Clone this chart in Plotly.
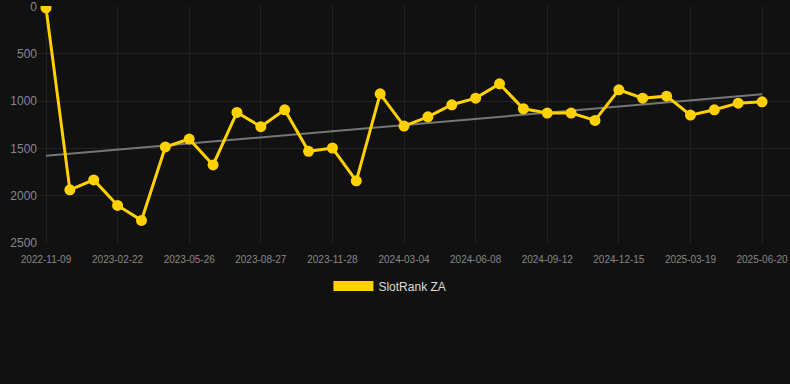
import plotly.graph_objects as go
import numpy as np

dates = ["2022-11-09","2022-12-14","2023-01-18","2023-02-22","2023-03-25","2023-04-25",
         "2023-05-26","2023-06-26","2023-07-27","2023-08-27","2023-09-27","2023-10-28",
         "2023-11-28","2023-12-31","2024-02-01","2024-03-04","2024-04-04","2024-05-07",
         "2024-06-08","2024-07-10","2024-08-11","2024-09-12","2024-10-13","2024-11-14",
         "2024-12-15","2025-01-15","2025-02-16","2025-03-19","2025-04-19","2025-05-20",
         "2025-06-20"]
ranks = [15, 1938, 1833, 2103, 2261, 1485, 1401, 1675, 1120, 1271, 1092, 1531,
         1496, 1843, 923, 1264, 1166, 1039, 969, 818, 1081, 1127, 1127, 1204,
         881, 969, 948, 1148, 1092, 1022, 1008]
tick_labels = dates[::3]
y_ticks = [0, 500, 1000, 1500, 2000, 2500]

idx = np.arange(len(ranks))
slope, intercept = np.polyfit(idx, ranks, 1)
trend = slope * idx + intercept

fig = go.Figure()
fig.add_trace(go.Scatter(x=dates, y=trend, mode="lines",
                         line=dict(color="#777777", width=2), showlegend=False,
                         hoverinfo="skip"))
fig.add_trace(go.Scatter(x=dates, y=ranks, mode="lines+markers",
                         line=dict(color="#FFD100", width=3),
                         marker=dict(color="#FFD100", size=11),
                         showlegend=False, name="SlotRank ZA"))
fig.add_trace(go.Scatter(x=[None], y=[None], mode="lines",
                         line=dict(color="#FFD100", width=11),
                         name="SlotRank ZA", showlegend=True))

fig.update_layout(
    width=790, height=384,
    paper_bgcolor="#111111", plot_bgcolor="#111111",
    margin=dict(l=38, r=0, t=6, b=141, autoexpand=False),
    font=dict(family="Liberation Sans, Arial, sans-serif", color="#888888"),
    showlegend=True,
    legend=dict(orientation="h", x=0.468, xanchor="center",
                y=-0.12, yanchor="top",
                font=dict(color="#DDDDDD", size=12), itemwidth=40,
                bgcolor="rgba(0,0,0,0)"),
)
fig.update_xaxes(type="category", range=[-0.335, 31.17], automargin=False,
                 tickmode="array", tickvals=tick_labels, ticktext=tick_labels,
                 tickangle=0, ticklabeloverflow="allow",
                 tickfont=dict(size=10, color="#888888"),
                 showgrid=True, gridcolor="#222222", gridwidth=1,
                 zeroline=False, showline=False, ticks="", ticklabelstandoff=9)
fig.update_yaxes(autorange=False, range=[2500, -5], automargin=False,
                 tickmode="array", tickvals=y_ticks, ticklabeloverflow="allow",
                 tickfont=dict(size=12, color="#888888"),
                 showgrid=True, gridcolor="#222222", gridwidth=1,
                 zeroline=False, showline=False, ticks="")

fig.write_html("out.html", config={"displayModeBar": False},
               post_script="document.body.style.margin='0';document.body.style.background='#111111';")
